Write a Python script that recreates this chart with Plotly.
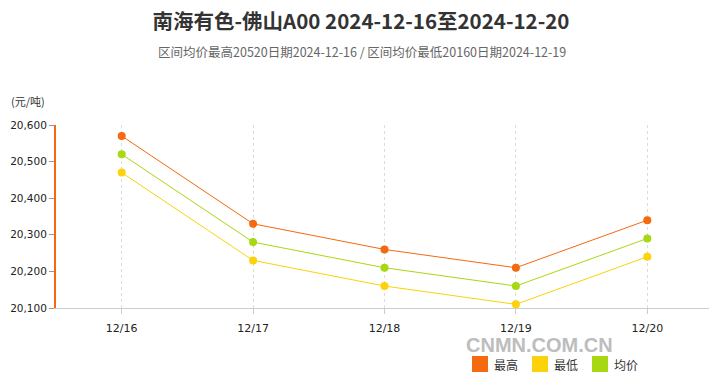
import plotly.graph_objects as go

categories = ["12/16", "12/17", "12/18", "12/19", "12/20"]
high = [20570, 20330, 20260, 20210, 20340]
low = [20470, 20230, 20160, 20110, 20240]
avg = [20520, 20280, 20210, 20160, 20290]

names = ["最高", "最低", "均价"]
colors = ["#F5690F", "#FCD20A", "#A8D811"]
series = [high, low, avg]

FONT = "Noto Sans CJK SC, Microsoft YaHei, sans-serif"
NUMFONT = "DejaVu Sans, Verdana, sans-serif"

OFF = 8  # page body margin
W, H = 717, 379
# target page coordinates of plot area: x 56..713, y 125..308
L = 56 - OFF
T = 125 - OFF
PW = 713 - 56
PH = 308 - 125
R = W - L - PW
B = H - T - PH


def px(x):
    return (x - OFF - L) / PW


def py(y):
    return (T + PH - (y - OFF)) / PH


fig = go.Figure()
for name, vals, c in zip(names, series, colors):
    fig.add_trace(go.Scatter(
        x=categories, y=vals, mode="lines+markers", name=name,
        line=dict(color=c, width=1), marker=dict(color=c, size=8),
        showlegend=False))

annotations = [
    dict(text="区间均价最高20520日期2024-12-16 / 区间均价最低20160日期2024-12-19",
         xref="paper", yref="paper", x=px(362), y=py(51),
         xanchor="center", yanchor="middle", showarrow=False,
         font=dict(size=12.5, color="#666")),
    dict(text="(元/吨)", xref="paper", yref="paper", x=px(9), y=py(101),
         xanchor="left", yanchor="middle", showarrow=False,
         font=dict(size=11, color="#333")),
    dict(text="<b>CNMN.COM.CN</b>", xref="paper", yref="paper", x=px(539), y=py(345),
         xanchor="center", yanchor="middle", showarrow=False,
         font=dict(size=20, color="#bdbdbd", family="Liberation Sans, Arial, sans-serif")),
]
shapes = []
leg_x = [472, 532, 592]
for name, c, lx in zip(names, colors, leg_x):
    shapes.append(dict(type="rect", xref="paper", yref="paper",
                       x0=px(lx), x1=px(lx + 16), y0=py(372), y1=py(356),
                       fillcolor=c, line=dict(width=0)))
    annotations.append(dict(text=name, xref="paper", yref="paper",
                            x=px(lx + 20), y=py(364.5), xanchor="left", yanchor="middle",
                            showarrow=False, font=dict(size=12, color="#333")))

fig.update_layout(
    width=W, height=H,
    margin=dict(l=L, r=R, t=T, b=B, autoexpand=False),
    paper_bgcolor="white", plot_bgcolor="white",
    font=dict(family=FONT, size=12, color="#333"),
    showlegend=False,
    title=dict(text="<b>南海有色-佛山A00 2024-12-16至2024-12-20</b>",
               x=(361 - OFF) / W, xref="container", xanchor="center",
               y=1 - (22 - OFF) / H, yref="container", yanchor="middle",
               font=dict(size=20.5, color="#333", family=FONT)),
    annotations=annotations,
    shapes=shapes,
)

fig.update_xaxes(
    type="category", range=[-0.5, 4.5],
    showline=True, linecolor="#ccc", linewidth=1,
    ticks="outside", ticklen=5, tickcolor="#ccc",
    showgrid=True, gridcolor="#dcdcdc", griddash="dot", gridwidth=1,
    tickfont=dict(size=11, color="#222", family=NUMFONT), zeroline=False,
    ticklabelstandoff=5, automargin=False,
)
fig.update_yaxes(
    range=[20100, 20600], dtick=100, tickformat=",",
    showline=True, linecolor="#F5690F", linewidth=2,
    ticks="outside", ticklen=5, tickcolor="#999",
    showgrid=False, zeroline=False,
    tickfont=dict(size=10.5, color="#222", family=NUMFONT),
    ticklabelstandoff=0, automargin=False,
)

fig.write_html("out.html")
